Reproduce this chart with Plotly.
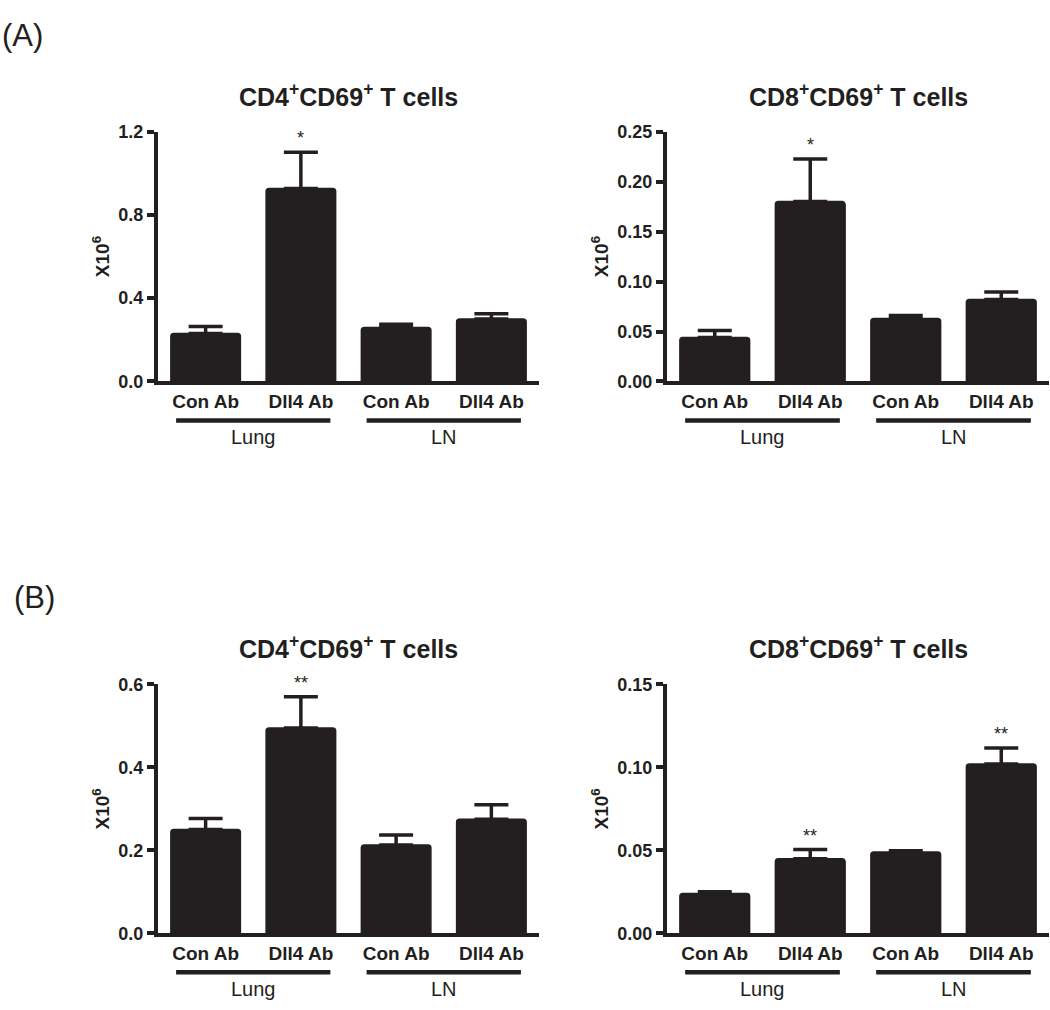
import plotly.graph_objects as go

# ---------------- data ----------------
treatments = ["Con Ab", "Dll4 Ab", "Con Ab", "Dll4 Ab"]
tissues = ["Lung", "Lung", "LN", "LN"]

a_cd4_mean = [0.230, 0.927, 0.259, 0.300]
a_cd4_sem = [0.034, 0.173, 0.016, 0.025]
a_cd4_sig = ["", "*", "", ""]

a_cd8_mean = [0.044, 0.180, 0.063, 0.082]
a_cd8_sem = [0.007, 0.0425, 0.003, 0.0075]
a_cd8_sig = ["", "*", "", ""]

b_cd4_mean = [0.250, 0.495, 0.213, 0.275]
b_cd4_sem = [0.027, 0.075, 0.024, 0.035]
b_cd4_sig = ["", "**", "", ""]

b_cd8_mean = [0.024, 0.045, 0.049, 0.102]
b_cd8_sem = [0.001, 0.0055, 0.0007, 0.0097]
b_cd8_sig = ["", "**", "", "**"]

panel_titles = ["CD4<sup>+</sup>CD69<sup>+</sup> T cells",
                "CD8<sup>+</sup>CD69<sup>+</sup> T cells",
                "CD4<sup>+</sup>CD69<sup>+</sup> T cells",
                "CD8<sup>+</sup>CD69<sup>+</sup> T cells"]
y_max = [1.2, 0.25, 0.6, 0.15]
y_dtick = [0.4, 0.05, 0.2, 0.05]
y_format = [".1f", ".2f", ".1f", ".2f"]
y_title = "X10<sup>6</sup>"
section_labels = ["(A)", "(B)"]

# ---------------- style ----------------
INK = "#231f20"
FONT = "Liberation Sans, Arial, sans-serif"
W, H = 1050, 1010

x_domains = [[158 / W, 539 / W], [667 / W, 1049 / W]] * 2
y_domains = [[1 - 379 / H, 1 - 124 / H]] * 2 + [[1 - 942 / H, 1 - 688 / H]] * 2

panels = [
    (a_cd4_mean, a_cd4_sem, a_cd4_sig),
    (a_cd8_mean, a_cd8_sem, a_cd8_sig),
    (b_cd4_mean, b_cd4_sem, b_cd4_sig),
    (b_cd8_mean, b_cd8_sem, b_cd8_sig),
]

xs = list(range(len(treatments)))
fig = go.Figure()
annotations = []
shapes = []

for i, (mean, sem, sig) in enumerate(panels):
    n = "" if i == 0 else str(i + 1)
    xa, ya = "x" + n, "y" + n
    fig.add_trace(go.Bar(
        x=xs, y=mean, xaxis=xa, yaxis=ya, width=0.73,
        marker=dict(color=INK, line=dict(color=INK, width=1.5), cornerradius=3),
        error_y=dict(type="data", array=sem, arrayminus=[0] * len(sem),
                     symmetric=False, color=INK, thickness=3.5, width=17),
        showlegend=False, hoverinfo="y",
    ))
    fig.layout["xaxis" + n] = dict(
        domain=x_domains[i], anchor=ya, range=[-0.5, len(xs) - 0.5],
        tickmode="array", tickvals=xs, ticktext=treatments,
        showline=True, linecolor=INK, linewidth=4, ticks="",
        tickfont=dict(family=FONT, size=19, color=INK, weight="bold"),
        showgrid=False, zeroline=False, fixedrange=True,
    )
    fig.layout["yaxis" + n] = dict(
        domain=y_domains[i], anchor=xa, range=[0, y_max[i]],
        dtick=y_dtick[i], tick0=0, tickformat=y_format[i],
        showline=True, linecolor=INK, linewidth=4,
        ticks="outside", ticklen=7, tickwidth=3.5, tickcolor=INK,
        tickfont=dict(family=FONT, size=18, color=INK, weight="bold"),
        title=dict(text=y_title, standoff=5,
                   font=dict(family=FONT, size=19, color=INK, weight="bold")),
        showgrid=False, zeroline=False, fixedrange=True,
    )
    annotations.append(dict(
        text=panel_titles[i], xref=xa + " domain", yref=ya + " domain",
        x=0.5, y=1, yshift=37, xanchor="center", yanchor="middle",
        showarrow=False, font=dict(family=FONT, size=25, color=INK, weight="bold"),
    ))
    for k, s in enumerate(sig):
        if s:
            annotations.append(dict(
                text=s, xref=xa, yref=ya, x=xs[k], y=mean[k] + sem[k],
                yshift=2, xanchor="center", yanchor="bottom", showarrow=False,
                font=dict(family=FONT, size=18, color=INK),
            ))
    groups = []
    for k, t in enumerate(tissues):
        if not groups or groups[-1][0] != t:
            groups.append([t, k, k])
        else:
            groups[-1][2] = k
    for t, k0, k1 in groups:
        shapes.append(dict(
            type="line", xref=xa, yref=ya + " domain",
            x0=k0 - 0.31, x1=k1 + 0.31, y0=-39, y1=-39,
            line=dict(color=INK, width=4.5),
            ysizemode="pixel", yanchor=0,
        ))
        annotations.append(dict(
            text=t, xref=xa, yref=ya + " domain", x=(k0 + k1) / 2, y=0,
            yshift=-56, xanchor="center", yanchor="middle", showarrow=False,
            font=dict(family=FONT, size=20, color=INK),
        ))

annotations.append(dict(text=section_labels[0], xref="paper", yref="paper",
                        x=0, y=1 - 26 / H, xanchor="left", yanchor="middle",
                        showarrow=False, font=dict(family=FONT, size=31, color=INK)))
annotations.append(dict(text=section_labels[1], xref="paper", yref="paper",
                        x=12 / W, y=1 - 599 / H, xanchor="left", yanchor="middle",
                        showarrow=False, font=dict(family=FONT, size=31, color=INK)))

fig.update_layout(
    autosize=True, margin=dict(l=0, r=0, t=0, b=0),
    paper_bgcolor="white", plot_bgcolor="white",
    annotations=annotations, shapes=shapes, bargap=0.27,
    font=dict(family=FONT, color=INK),
)

fig.write_html("out.html", config={"displayModeBar": False, "responsive": True},
               default_width="100vw", default_height="100vh",
               post_script="document.body.style.margin='0';document.body.style.overflow='hidden';")
